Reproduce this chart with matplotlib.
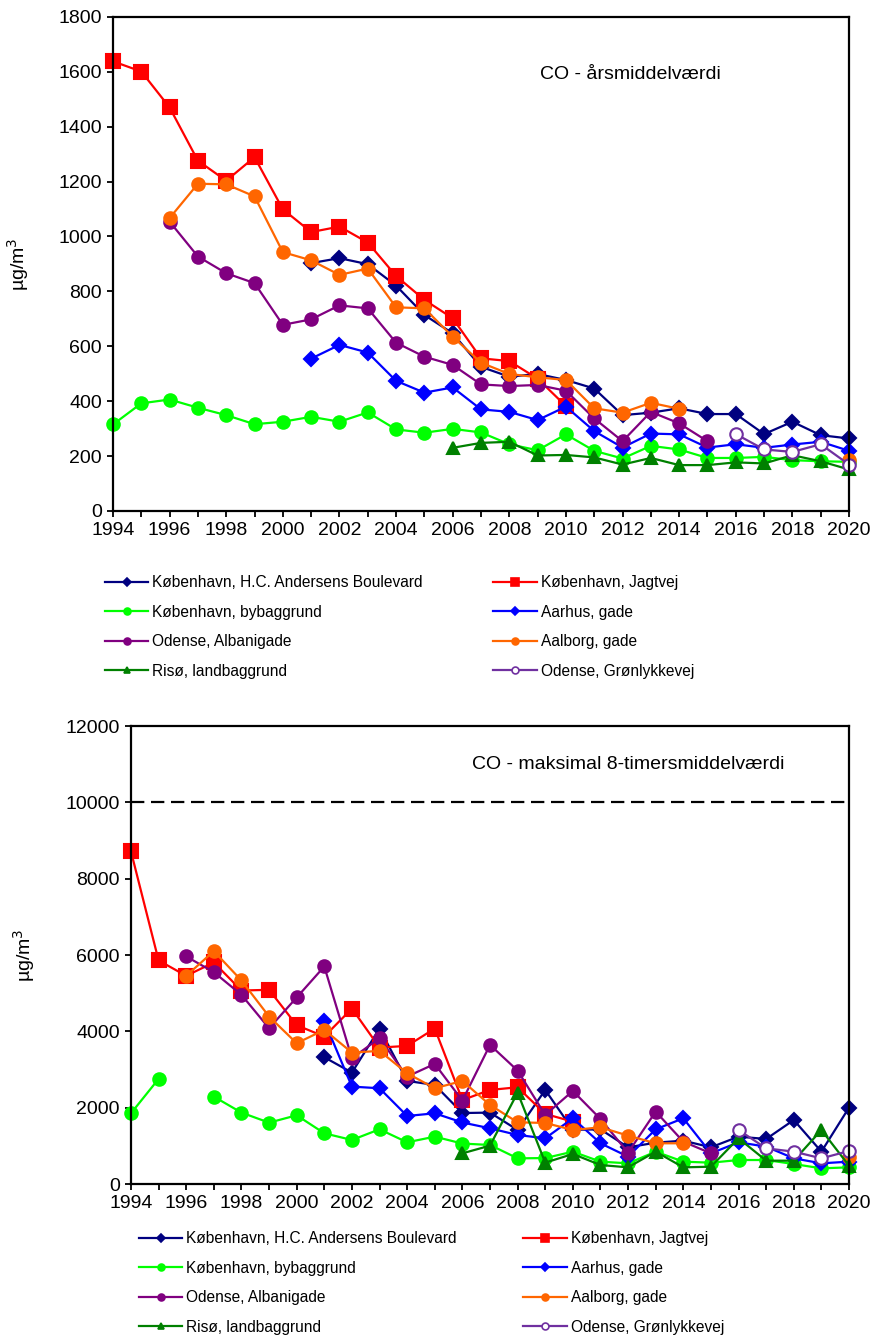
import numpy as np
import matplotlib
matplotlib.use('Agg')
import matplotlib.pyplot as plt
from matplotlib.lines import Line2D

plt.rcParams['font.family'] = ['Liberation Sans', 'DejaVu Sans']

nan = np.nan
years = np.arange(1994, 2021)

# annual mean, ug/m3 (1994..2020)
hca_year = [nan, nan, nan, nan, nan, nan, nan, 903, 921, 899, 821, 714, 647, 525, 489, 499,
            477, 446, 349, 358, 374, 353, 353, 280, 325, 276, 264]
jagtvej_year = [1638, 1601, 1470, 1276, 1203, 1289, 1099, 1016, 1036, 978, 856, 769, 702, 556,
                546, 482, 382, nan, nan, nan, nan, nan, nan, nan, nan, nan, nan]
bybag_year = [315, 392, 406, 376, 349, 316, 325, 343, 325, 359, 297, 285, 299, 286, 243, 221,
              279, 219, 191, 237, 224, 193, 193, 197, 185, 181, 179]
aarhus_year = [nan, nan, nan, nan, nan, nan, nan, 555, 605, 577, 474, 431, 450, 370, 361, 331,
               380, 291, 231, 282, 279, 231, 243, 230, 242, 252, 219]
albani_year = [nan, nan, 1054, 927, 866, 830, 678, 698, 749, 738, 613, 562, 532, 461, 455, 459,
               438, 337, 254, 361, 319, 254, nan, nan, nan, nan, nan]
aalborg_year = [nan, nan, 1067, 1192, 1190, 1146, 943, 913, 860, 883, 742, 738, 635, 540, 499,
                487, 477, 374, 358, 394, 372, nan, nan, nan, nan, nan, 187]
riso_year = [nan] * 12 + [230, 248, 252, 202, 204, 195, 169, 193, 167, 167, 177, 173, 203, 181, 151]
gron_year = [nan] * 22 + [280, 224, 215, 243, 169]

# max 8-hour mean, ug/m3 (1994..2020)
hca_8h = [nan, nan, nan, nan, nan, nan, nan, 3322, 2920, 4074, 2701, 2596, 1860, 1871, 1416,
          2465, 1420, 1433, 962, 1084, 1136, 962, 1241, 1180, 1678, 848, 2002]
jagtvej_8h = [8715, 5857, 5455, 5805, 5070, 5088, 4161, 3864, 4598, 3575, 3619, 4074, 2200,
              2465, 2535, 1836, 1635, nan, nan, nan, nan, nan, nan, nan, nan, nan, nan]
bybag_8h = [1853, 2754, nan, 2290, 1871, 1608, 1801, 1329, 1154, 1434, 1093, 1241, 1060, 1023,
            673, 680, 848, 586, 542, 848, 586, 559, 629, 629, 524, 411, 437]
aarhus_8h = [nan, nan, nan, nan, nan, nan, nan, 4275, 2552, 2509, 1783, 1853, 1612, 1460, 1285,
             1198, 1722, 1067, 717, 1434, 1722, 804, 1093, 979, 673, 542, 586]
albani_8h = [nan, nan, 5962, 5551, 4957, 4082, 4887, 5700, 3296, 3820, 2815, 3147, 2186, 3645,
             2972, 1810, 2439, 1705, 822, 1897, 1110, 804, nan, nan, nan, nan, nan]
aalborg_8h = [nan, nan, 5455, 6102, 5333, 4389, 3689, 4039, 3444, 3488, 2902, 2509, 2701, 2072,
              1617, 1600, 1416, 1486, 1268, 1067, 1067, nan, nan, nan, nan, nan, 699]
riso_8h = [nan] * 12 + [804, 1005, 2395, 560, 787, 498, 437, 848, 437, 454, 1198, 612, 612, 1416, 480]
gron_8h = [nan] * 22 + [1416, 935, 848, 673, 865]

labels = ['København, H.C. Andersens Boulevard', 'København, Jagtvej',
          'København, bybaggrund', 'Aarhus, gade', 'Odense, Albanigade',
          'Aalborg, gade', 'Risø, landbaggrund', 'Odense, Grønlykkevej']

styles = [
    dict(color='#000080', marker='D', ms=7.5, mfc='#000080'),
    dict(color='#FF0000', marker='s', ms=9.5, mfc='#FF0000'),
    dict(color='#00FF00', marker='o', ms=9, mfc='#00FF00'),
    dict(color='#0000FF', marker='D', ms=7.5, mfc='#0000FF'),
    dict(color='#800080', marker='o', ms=9, mfc='#800080'),
    dict(color='#FF6600', marker='o', ms=9, mfc='#FF6600'),
    dict(color='#008000', marker='^', ms=9, mfc='#008000'),
    dict(color='#7030A0', marker='o', ms=9, mfc='white'),
]


def draw_panel(ax, series, ymax, ystep, title, title_xy):
    for vals, st in zip(series, styles):
        ax.plot(years, np.array(vals, dtype=float), color=st['color'], marker=st['marker'],
                markersize=st['ms'], markerfacecolor=st['mfc'], markeredgecolor=st['color'],
                markeredgewidth=1.5, linewidth=1.6, clip_on=False)
    ax.set_xlim(1994, 2020)
    ax.set_ylim(0, ymax)
    ax.set_xticks(np.arange(1994, 2021, 2))
    ax.set_xticks(np.arange(1994, 2021, 1), minor=True)
    ax.set_yticks(np.arange(0, ymax + 1, ystep))
    ax.tick_params(which='both', direction='out', labelsize=14, width=1.3, length=4.5)
    for sp in ax.spines.values():
        sp.set_linewidth(1.6)
    ax.set_ylabel('µg/m$^3$', fontsize=14)
    ax.text(title_xy[0], title_xy[1], title, transform=ax.transAxes, fontsize=14,
            va='center', ha='left')


def draw_legend(ax, x_anchor, y_anchor, colspace):
    handles = []
    for st in styles:
        handles.append(Line2D([0], [0], color=st['color'], marker=st['marker'],
                              markersize=st['ms'] * 0.55, markerfacecolor=st['mfc'],
                              markeredgecolor=st['color'], markeredgewidth=1.2, linewidth=1.6))
    order = [0, 2, 4, 6, 1, 3, 5, 7]
    ax.legend([handles[i] for i in order], [labels[i] for i in order], ncol=2,
              loc='upper left', bbox_to_anchor=(x_anchor, y_anchor), frameon=False,
              fontsize=11.2, handlelength=2.8, handletextpad=0.26, labelspacing=0.94,
              columnspacing=colspace, borderaxespad=0, borderpad=0)


fig = plt.figure(figsize=(8.82, 13.40), dpi=100)

ax1 = fig.add_axes([0.1281, 0.6187, 0.8345, 0.3687])
draw_panel(ax1, [hca_year, jagtvej_year, bybag_year, aarhus_year, albani_year, aalborg_year,
                 riso_year, gron_year], 1800, 200, 'CO - årsmiddelværdi', (0.580, 0.883))
ax1.yaxis.set_label_coords(-0.111, 0.5)
draw_legend(ax1, -0.011, -0.1296, 4.5)

ax2 = fig.add_axes([0.1485, 0.1164, 0.8141, 0.3418])
draw_panel(ax2, [hca_8h, jagtvej_8h, bybag_8h, aarhus_8h, albani_8h, aalborg_8h,
                 riso_8h, gron_8h], 12000, 2000, 'CO - maksimal 8-timersmiddelværdi',
           (0.475, 0.915))
ax2.axhline(10000, color='black', linestyle=(0, (6, 3)), linewidth=1.6)
ax2.yaxis.set_label_coords(-0.131, 0.5)
draw_legend(ax2, 0.011, -0.1026, 4.25)

fig.savefig('out.png', dpi=100)
